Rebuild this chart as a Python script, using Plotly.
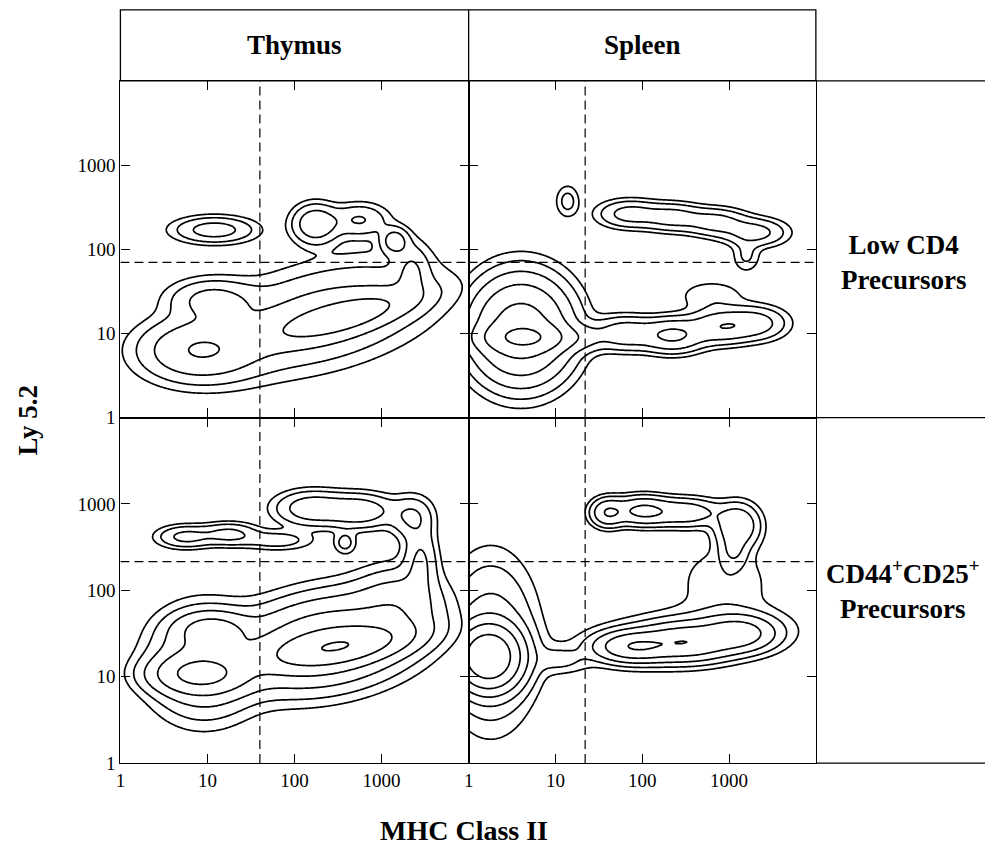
import numpy as np
import plotly.graph_objects as go

# ---------------- data ----------------
columns = ["Thymus", "Spleen"]
rows = ["Low CD4<br>Precursors", "CD44<sup>+</sup>CD25<sup>+</sup><br>Precursors"]
tick_vals = [1, 10, 100, 1000]
tick_text = ["1", "10", "100", "1000"]
axis_range = [1, 10000]

# gate positions (MHC class II for each column, Ly 5.2 for each row)
gate_mhc = [40, 22]
gate_ly = [70, 215]

# density contour levels (relative cell density, geometric)
level_start, level_factor, level_count = 0.01, 2.2, 6

# populations per panel: centre MHC II, centre Ly5.2, spread (decades) x / y, tilt (deg), peak density
thy_low_mhc = [12, 174, 562, 1413, 355, 200, 7.9, 11.2, 2240]
thy_low_ly = [170, 200, 224, 126, 15.8, 15.8, 6.3, 25, 56]
thy_low_sx = [0.28, 0.16, 0.20, 0.10, 0.50, 0.80, 0.40, 0.30, 0.12]
thy_low_sy = [0.095, 0.14, 0.12, 0.10, 0.12, 0.34, 0.22, 0.15, 0.20]
thy_low_tilt = [0, 0, 0, 0, 15, 15, 0, 0, 0]
thy_low_peak = [0.07, 0.09, 0.05, 0.07, 0.12, 0.07, 0.10, 0.06, 0.04]

spl_low_mhc = [13.8, 71, 224, 708, 1995, 1585, 4.5, 4.0, 63, 224, 794, 1995, 631, 22.4]
spl_low_ly = [372, 263, 240, 209, 158, 83, 8.9, 11, 10, 9.5, 12, 13.2, 28, 8.9]
spl_low_sx = [0.085, 0.22, 0.22, 0.22, 0.22, 0.10, 0.30, 0.32, 0.22, 0.22, 0.22, 0.22, 0.25, 0.15]
spl_low_sy = [0.12, 0.10, 0.10, 0.10, 0.10, 0.12, 0.10, 0.35, 0.12, 0.12, 0.12, 0.12, 0.12, 0.10]
spl_low_tilt = [0] * 14
spl_low_peak = [0.03, 0.065, 0.065, 0.065, 0.065, 0.025, 0.30, 0.35, 0.08, 0.12, 0.09, 0.07, 0.02, 0.03]

thy_cd44_mhc = [5.6, 17.8, 63, 158, 562, 2240, 2818, 380, 316, 224, 7.9, 8.9, 11.2, 1585]
thy_cd44_ly = [417, 447, 380, 891, 832, 708, 224, 355, 22.4, 25, 10.7, 14.1, 35.5, 71]
thy_cd44_sx = [0.20, 0.20, 0.25, 0.25, 0.25, 0.15, 0.12, 0.08, 0.45, 0.60, 0.32, 0.35, 0.25, 0.30]
thy_cd44_sy = [0.08, 0.08, 0.07, 0.12, 0.12, 0.15, 0.25, 0.08, 0.12, 0.30, 0.13, 0.35, 0.12, 0.25]
thy_cd44_tilt = [0, 0, 0, 0, 0, 0, 0, 0, 9, 10, 0, 0, 0, 0]
thy_cd44_peak = [0.06, 0.06, 0.035, 0.08, 0.08, 0.05, 0.05, 0.03, 0.35, 0.20, 0.20, 0.12, 0.10, 0.06]

spl_cd44_mhc = [40, 100, 316, 1259, 1122, 891, 1.7, 1.8, 79, 316, 1259, 316, 11.2]
spl_cd44_ly = [794, 832, 794, 562, 282, 126, 17, 25, 22.4, 25, 31.6, 28, 15.8]
spl_cd44_sx = [0.12, 0.20, 0.25, 0.15, 0.10, 0.35, 0.20, 0.30, 0.25, 0.30, 0.25, 0.70, 0.20]
spl_cd44_sy = [0.10, 0.10, 0.10, 0.15, 0.12, 0.28, 0.20, 0.55, 0.10, 0.12, 0.12, 0.20, 0.10]
spl_cd44_tilt = [0, 0, 0, 0, 0, 0, 0, 0, 0, 0, 0, 5, 0]
spl_cd44_peak = [0.10, 0.12, 0.08, 0.10, 0.04, 0.02, 1.0, 0.08, 0.20, 0.18, 0.15, 0.04, 0.025]

panels = [
    (thy_low_mhc, thy_low_ly, thy_low_sx, thy_low_sy, thy_low_tilt, thy_low_peak),
    (spl_low_mhc, spl_low_ly, spl_low_sx, spl_low_sy, spl_low_tilt, spl_low_peak),
    (thy_cd44_mhc, thy_cd44_ly, thy_cd44_sx, thy_cd44_sy, thy_cd44_tilt, thy_cd44_peak),
    (spl_cd44_mhc, spl_cd44_ly, spl_cd44_sx, spl_cd44_sy, spl_cd44_tilt, spl_cd44_peak),
]

# ---------------- layout geometry (pixels) ----------------
W, H = 985, 859
col_px = [(116, 466), (466, 815)]
row_px = [(82, 423), (423, 773)]
header_px = (10, 82)
FONT = "Liberation Serif"


def fx(p):
    return p / W


def fy(p):
    return 1 - p / H


# ---------------- density grid ----------------
g = np.linspace(0, 4, 241)
GX, GY = np.meshgrid(g, g)


def density(mhc, ly, sx, sy, tilt, peak):
    z = np.zeros_like(GX)
    for cx, cy, a, b, t, p in zip(mhc, ly, sx, sy, tilt, peak):
        th = np.radians(t)
        dx = GX - np.log10(cx)
        dy = GY - np.log10(cy)
        u = dx * np.cos(th) + dy * np.sin(th)
        v = -dx * np.sin(th) + dy * np.cos(th)
        z += p * np.exp(-0.5 * ((u / a) ** 2 + (v / b) ** 2))
    return np.log10(np.maximum(z, 1e-8))


fig = go.Figure()
step = np.log10(level_factor)
lstart = np.log10(level_start)
dash = dict(color="black", width=1.2, dash="9px,5px")

for i, pdata in enumerate(panels):
    r, c = divmod(i, 2)
    n = "" if i == 0 else str(i + 1)
    z = density(*pdata)
    fig.add_trace(go.Contour(
        x=10 ** g, y=10 ** g, z=z,
        xaxis="x" + n, yaxis="y" + n,
        autocontour=False,
        contours=dict(start=lstart, end=lstart + step * (level_count - 1) + 1e-6,
                      size=step, coloring="none", showlabels=False),
        line=dict(color="black", width=1.7, smoothing=0.6),
        showscale=False, hoverinfo="skip",
    ))
    # gates
    fig.add_trace(go.Scatter(
        x=[gate_mhc[c], gate_mhc[c]], y=axis_range, mode="lines", line=dash,
        xaxis="x" + n, yaxis="y" + n, showlegend=False, hoverinfo="skip"))
    fig.add_trace(go.Scatter(
        x=axis_range, y=[gate_ly[r], gate_ly[r]], mode="lines", line=dash,
        xaxis="x" + n, yaxis="y" + n, showlegend=False, hoverinfo="skip"))

    axis_common = dict(type="log", range=[0, 4], showgrid=False, zeroline=False,
                       showline=True, linecolor="black", linewidth=1.2, mirror="ticks",
                       ticks="inside", ticklen=9, tickwidth=1.3, tickcolor="black",
                       tickvals=tick_vals, ticktext=tick_text,
                       tickfont=dict(family=FONT, size=19, color="black"))
    x0, x1 = col_px[c]
    y0, y1 = row_px[r]
    fig.layout["xaxis" + n] = dict(axis_common, domain=[fx(x0), fx(x1)],
                                   anchor="y" + n, showticklabels=(r == 1))
    fig.layout["yaxis" + n] = dict(axis_common, domain=[fy(y1), fy(y0)],
                                   anchor="x" + n, showticklabels=(c == 0))

shapes = []
line = dict(color="black", width=1.3)
# header box
shapes.append(dict(type="rect", xref="paper", yref="paper", x0=fx(116), x1=fx(815),
                   y0=fy(header_px[1]), y1=fy(header_px[0]), line=line))
shapes.append(dict(type="line", xref="paper", yref="paper", x0=fx(466), x1=fx(466),
                   y0=fy(header_px[1]), y1=fy(header_px[0]), line=line))
# row separators extending to the right edge
for yp in (82, 423, 773):
    shapes.append(dict(type="line", xref="paper", yref="paper", x0=fx(815), x1=1,
                       y0=fy(yp), y1=fy(yp), line=line))

annotations = []
anchor = dict(xref="paper", yref="paper", xanchor="center", yanchor="middle", showarrow=False)
for c, name in enumerate(columns):
    annotations.append(dict(anchor, text="<b>%s</b>" % name,
                            x=fx(sum(col_px[c]) / 2), y=fy(46),
                            font=dict(family=FONT, size=27, color="black")))
for r, name in enumerate(rows):
    annotations.append(dict(anchor, text="<b>%s</b>" % name,
                            x=fx(903), y=fy([266, 597][r]),
                            font=dict(family=FONT, size=27, color="black")))
annotations.append(dict(anchor, text="<b>Ly 5.2</b>", x=fx(23), y=fy(425), textangle=-90,
                        font=dict(family=FONT, size=27, color="black")))
annotations.append(dict(anchor, text="<b>MHC Class II</b>", x=fx(461), y=fy(841),
                        font=dict(family=FONT, size=28, color="black")))

fig.update_layout(width=W, height=H, margin=dict(l=0, r=0, t=0, b=0),
                  paper_bgcolor="white", plot_bgcolor="white", showlegend=False,
                  shapes=shapes, annotations=annotations)

fig.write_html("out.html", config={"displayModeBar": False},
               post_script="document.body.style.margin='0';document.body.style.overflow='hidden';")
